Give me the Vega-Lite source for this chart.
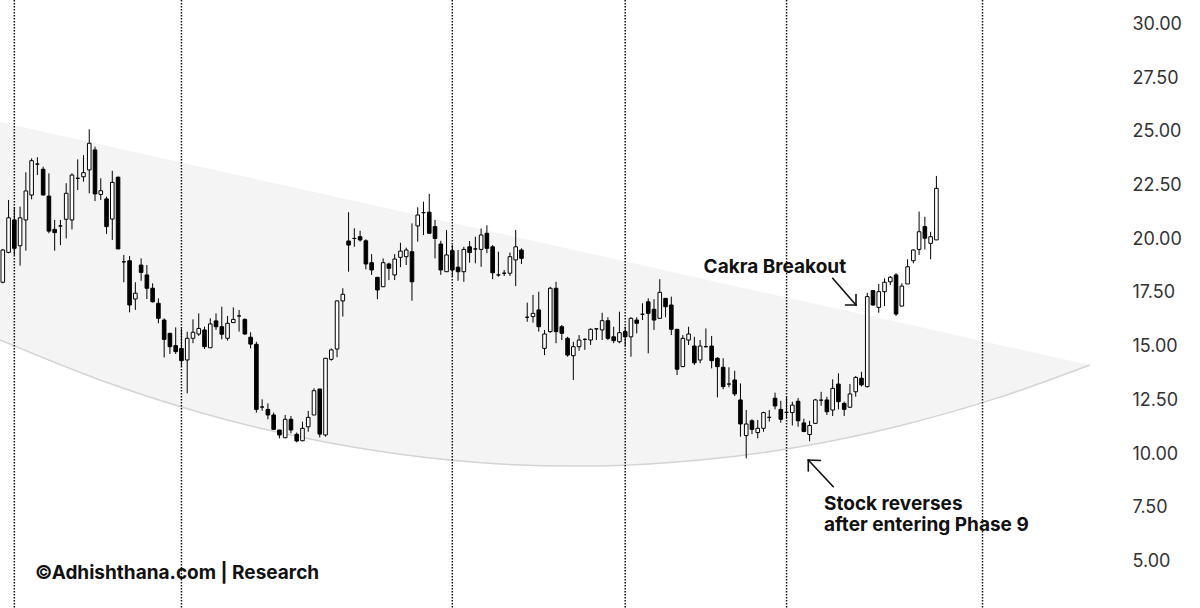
{
  "$schema": "https://vega.github.io/schema/vega-lite/v6.json",
  "width": 1120,
  "height": 608,
  "padding": {"left": 0, "top": 0, "right": 80, "bottom": 0},
  "autosize": {"type": "none"},
  "background": "#ffffff",
  "config": {"view": {"stroke": null}, "scale": {"continuousPadding": 0}},
  "datasets": {
    "candles": [
      {"i":0,"o":17.95,"h":19.5,"l":17.9,"c":19.45},
      {"i":1,"o":19.34,"h":21.78,"l":19.3,"c":20.95},
      {"i":2,"o":20.85,"h":21.44,"l":19.22,"c":19.53},
      {"i":3,"o":19.65,"h":21.47,"l":18.72,"c":20.95},
      {"i":4,"o":20.85,"h":23.07,"l":19.42,"c":22.2},
      {"i":5,"o":22.01,"h":23.72,"l":21.81,"c":23.61},
      {"i":6,"o":23.45,"h":23.77,"l":22.94,"c":23.45},
      {"i":7,"o":23.21,"h":23.33,"l":22.0,"c":22.01},
      {"i":8,"o":21.96,"h":23.02,"l":20.23,"c":20.33},
      {"i":9,"o":20.41,"h":20.85,"l":19.42,"c":20.26},
      {"i":10,"o":20.57,"h":20.85,"l":19.68,"c":20.57},
      {"i":11,"o":20.88,"h":22.56,"l":19.99,"c":22.09},
      {"i":12,"o":20.85,"h":23.02,"l":20.41,"c":22.94},
      {"i":13,"o":22.79,"h":23.67,"l":22.24,"c":22.79},
      {"i":14,"o":22.86,"h":23.87,"l":22.63,"c":23.05},
      {"i":15,"o":23.18,"h":25.07,"l":22.09,"c":24.42},
      {"i":16,"o":24.11,"h":24.26,"l":21.73,"c":22.06},
      {"i":17,"o":22.04,"h":22.79,"l":21.78,"c":22.21},
      {"i":18,"o":21.83,"h":21.94,"l":20.2,"c":20.54},
      {"i":19,"o":20.89,"h":23.14,"l":19.92,"c":22.6},
      {"i":20,"o":22.84,"h":22.87,"l":19.5,"c":19.5},
      {"i":21,"o":18.9,"h":19.22,"l":17.95,"c":18.9},
      {"i":22,"o":18.95,"h":19.17,"l":16.55,"c":16.89},
      {"i":23,"o":17.17,"h":17.95,"l":16.66,"c":17.44},
      {"i":24,"o":18.75,"h":19.06,"l":18.02,"c":18.41},
      {"i":25,"o":18.29,"h":18.75,"l":17.17,"c":17.67},
      {"i":26,"o":17.67,"h":17.9,"l":17.0,"c":17.04},
      {"i":27,"o":16.97,"h":17.2,"l":16.04,"c":16.27},
      {"i":28,"o":16.19,"h":16.27,"l":14.45,"c":15.29},
      {"i":29,"o":15.57,"h":15.6,"l":14.61,"c":14.95},
      {"i":30,"o":15.0,"h":15.85,"l":14.61,"c":14.72},
      {"i":31,"o":14.87,"h":15.8,"l":14.02,"c":14.3},
      {"i":32,"o":14.33,"h":15.65,"l":12.78,"c":15.34},
      {"i":33,"o":15.34,"h":16.22,"l":15.11,"c":15.62},
      {"i":34,"o":15.54,"h":16.5,"l":15.45,"c":15.8},
      {"i":35,"o":15.73,"h":15.88,"l":14.84,"c":14.95},
      {"i":36,"o":14.9,"h":16.27,"l":14.9,"c":16.01},
      {"i":37,"o":16.15,"h":16.5,"l":15.73,"c":15.88},
      {"i":38,"o":15.88,"h":16.81,"l":15.29,"c":15.53},
      {"i":39,"o":15.34,"h":16.38,"l":15.23,"c":16.04},
      {"i":40,"o":16.07,"h":16.78,"l":16.07,"c":16.22},
      {"i":41,"o":16.38,"h":16.66,"l":15.65,"c":16.38},
      {"i":42,"o":16.22,"h":16.27,"l":15.5,"c":15.54},
      {"i":43,"o":15.39,"h":15.62,"l":14.87,"c":15.07},
      {"i":44,"o":15.06,"h":15.18,"l":11.88,"c":12.03},
      {"i":45,"o":12.14,"h":12.5,"l":11.97,"c":12.14},
      {"i":46,"o":12.03,"h":12.31,"l":11.57,"c":11.77},
      {"i":47,"o":11.77,"h":11.88,"l":11.1,"c":11.1},
      {"i":48,"o":11.07,"h":11.07,"l":10.68,"c":10.84},
      {"i":49,"o":10.71,"h":11.77,"l":10.7,"c":11.57},
      {"i":50,"o":11.57,"h":11.72,"l":10.92,"c":11.07},
      {"i":51,"o":10.87,"h":10.95,"l":10.5,"c":10.56},
      {"i":52,"o":10.57,"h":11.46,"l":10.55,"c":11.15},
      {"i":53,"o":11.22,"h":11.96,"l":10.99,"c":11.66},
      {"i":54,"o":11.77,"h":13.01,"l":11.77,"c":12.9},
      {"i":55,"o":12.98,"h":12.98,"l":10.73,"c":10.88},
      {"i":56,"o":10.84,"h":14.41,"l":10.76,"c":14.41},
      {"i":57,"o":14.36,"h":14.87,"l":14.3,"c":14.8},
      {"i":58,"o":14.84,"h":17.1,"l":14.46,"c":17.08},
      {"i":59,"o":17.08,"h":17.67,"l":16.35,"c":17.39},
      {"i":60,"o":19.87,"h":21.21,"l":18.44,"c":19.68},
      {"i":61,"o":19.99,"h":20.46,"l":19.6,"c":19.99},
      {"i":62,"o":20.07,"h":20.35,"l":19.84,"c":19.92},
      {"i":63,"o":19.88,"h":19.95,"l":18.55,"c":18.8},
      {"i":64,"o":18.86,"h":19.26,"l":18.29,"c":18.52},
      {"i":65,"o":18.18,"h":18.18,"l":17.16,"c":17.59},
      {"i":66,"o":17.74,"h":19.06,"l":17.74,"c":18.86},
      {"i":67,"o":18.8,"h":18.86,"l":18.05,"c":18.6},
      {"i":68,"o":18.29,"h":19.26,"l":18.05,"c":19.03},
      {"i":69,"o":19.11,"h":19.79,"l":18.65,"c":19.4},
      {"i":70,"o":19.14,"h":19.56,"l":18.75,"c":19.45},
      {"i":71,"o":19.37,"h":20.69,"l":17.09,"c":17.97},
      {"i":72,"o":20.57,"h":21.44,"l":19.84,"c":21.08},
      {"i":73,"o":21.19,"h":21.7,"l":20.15,"c":21.19},
      {"i":74,"o":21.21,"h":22.06,"l":20.2,"c":20.23},
      {"i":75,"o":20.54,"h":20.85,"l":19.06,"c":19.99},
      {"i":76,"o":19.73,"h":19.88,"l":18.29,"c":18.52},
      {"i":77,"o":18.44,"h":20.38,"l":18.44,"c":19.22},
      {"i":78,"o":19.42,"h":19.68,"l":18.21,"c":18.52},
      {"i":79,"o":18.65,"h":19.45,"l":18.02,"c":18.44},
      {"i":80,"o":18.44,"h":19.6,"l":17.97,"c":19.48},
      {"i":81,"o":19.6,"h":19.87,"l":18.86,"c":19.33},
      {"i":82,"o":19.5,"h":20.07,"l":18.83,"c":19.5},
      {"i":83,"o":19.48,"h":20.45,"l":18.67,"c":20.15},
      {"i":84,"o":20.23,"h":20.6,"l":19.3,"c":19.53},
      {"i":85,"o":19.6,"h":19.68,"l":18.09,"c":18.39},
      {"i":86,"o":18.29,"h":19.37,"l":18.21,"c":18.29},
      {"i":87,"o":18.37,"h":18.52,"l":18.24,"c":18.37},
      {"i":88,"o":18.37,"h":19.33,"l":18.24,"c":19.14},
      {"i":89,"o":18.99,"h":20.38,"l":17.77,"c":19.6},
      {"i":90,"o":19.45,"h":19.53,"l":18.8,"c":19.06},
      {"i":91,"o":16.32,"h":17.0,"l":16.11,"c":16.32},
      {"i":92,"o":16.35,"h":17.36,"l":16.07,"c":16.5},
      {"i":93,"o":16.66,"h":17.51,"l":15.65,"c":15.88},
      {"i":94,"o":14.87,"h":15.73,"l":14.56,"c":15.54},
      {"i":95,"o":15.65,"h":17.74,"l":15.6,"c":17.67},
      {"i":96,"o":17.67,"h":17.97,"l":15.11,"c":15.65},
      {"i":97,"o":15.88,"h":15.96,"l":15.26,"c":15.57},
      {"i":98,"o":15.34,"h":15.41,"l":14.48,"c":14.56},
      {"i":99,"o":14.53,"h":15.18,"l":13.4,"c":14.95},
      {"i":100,"o":14.95,"h":15.49,"l":14.76,"c":15.26},
      {"i":101,"o":15.29,"h":15.34,"l":14.8,"c":15.29},
      {"i":102,"o":15.26,"h":15.8,"l":15.03,"c":15.76},
      {"i":103,"o":15.78,"h":15.8,"l":15.26,"c":15.78},
      {"i":104,"o":15.73,"h":16.53,"l":15.26,"c":16.16},
      {"i":105,"o":16.16,"h":16.32,"l":15.26,"c":15.34},
      {"i":106,"o":15.41,"h":15.88,"l":15.11,"c":15.23},
      {"i":107,"o":15.18,"h":16.58,"l":15.11,"c":15.6},
      {"i":108,"o":15.65,"h":15.88,"l":14.95,"c":15.41},
      {"i":109,"o":15.41,"h":16.32,"l":14.48,"c":16.27},
      {"i":110,"o":16.19,"h":16.32,"l":15.57,"c":16.04},
      {"i":111,"o":16.46,"h":16.97,"l":16.19,"c":16.46},
      {"i":112,"o":17.04,"h":17.2,"l":14.64,"c":16.5},
      {"i":113,"o":16.69,"h":17.16,"l":15.73,"c":16.19},
      {"i":114,"o":16.27,"h":18.09,"l":16.27,"c":17.48},
      {"i":115,"o":17.2,"h":17.2,"l":16.32,"c":16.81},
      {"i":116,"o":16.89,"h":17.28,"l":15.49,"c":15.76},
      {"i":117,"o":15.76,"h":15.76,"l":13.63,"c":13.9},
      {"i":118,"o":14.02,"h":15.49,"l":14.02,"c":15.34},
      {"i":119,"o":15.26,"h":15.88,"l":15.03,"c":15.54},
      {"i":120,"o":14.98,"h":15.41,"l":14.1,"c":14.2},
      {"i":121,"o":14.33,"h":15.26,"l":14.18,"c":14.98},
      {"i":122,"o":14.95,"h":15.8,"l":14.92,"c":14.95},
      {"i":123,"o":14.98,"h":15.45,"l":13.94,"c":14.3},
      {"i":124,"o":14.41,"h":14.46,"l":12.59,"c":14.02},
      {"i":125,"o":13.99,"h":14.41,"l":12.97,"c":13.09},
      {"i":126,"o":13.21,"h":13.99,"l":13.06,"c":13.21},
      {"i":127,"o":13.4,"h":13.83,"l":12.65,"c":12.75},
      {"i":128,"o":12.47,"h":13.24,"l":10.76,"c":11.35},
      {"i":129,"o":10.81,"h":12.0,"l":9.75,"c":11.35},
      {"i":130,"o":11.5,"h":11.57,"l":10.88,"c":11.1},
      {"i":131,"o":10.95,"h":11.54,"l":10.68,"c":11.15},
      {"i":132,"o":11.15,"h":11.92,"l":10.99,"c":11.88},
      {"i":133,"o":11.66,"h":12.0,"l":11.46,"c":11.66},
      {"i":134,"o":12.55,"h":12.81,"l":12.03,"c":12.19},
      {"i":135,"o":12.03,"h":12.43,"l":11.41,"c":11.57},
      {"i":136,"o":11.89,"h":12.6,"l":11.6,"c":11.89},
      {"i":137,"o":11.88,"h":12.39,"l":11.28,"c":12.23},
      {"i":138,"o":12.41,"h":12.56,"l":11.22,"c":11.5},
      {"i":139,"o":11.4,"h":11.6,"l":10.97,"c":11.0},
      {"i":140,"o":10.86,"h":11.5,"l":10.55,"c":11.28},
      {"i":141,"o":11.38,"h":12.52,"l":11.38,"c":12.47},
      {"i":142,"o":12.46,"h":12.85,"l":12.2,"c":12.46},
      {"i":143,"o":12.47,"h":12.62,"l":11.77,"c":11.92},
      {"i":144,"o":12.0,"h":13.43,"l":11.72,"c":13.01},
      {"i":145,"o":13.21,"h":13.71,"l":12.03,"c":12.39},
      {"i":146,"o":12.31,"h":12.39,"l":11.72,"c":12.03},
      {"i":147,"o":12.13,"h":13.21,"l":12.1,"c":12.75},
      {"i":148,"o":12.85,"h":13.58,"l":12.62,"c":13.52},
      {"i":149,"o":13.48,"h":13.78,"l":13.1,"c":13.17},
      {"i":150,"o":13.09,"h":17.46,"l":13.05,"c":17.28},
      {"i":151,"o":17.56,"h":17.59,"l":16.85,"c":16.89},
      {"i":152,"o":16.78,"h":17.87,"l":16.53,"c":17.51},
      {"i":153,"o":17.51,"h":18.13,"l":16.84,"c":17.95},
      {"i":154,"o":17.97,"h":18.24,"l":17.82,"c":18.18},
      {"i":155,"o":18.29,"h":18.37,"l":16.38,"c":16.47},
      {"i":156,"o":16.84,"h":17.9,"l":16.84,"c":17.77},
      {"i":157,"o":17.87,"h":19.02,"l":17.87,"c":18.67},
      {"i":158,"o":18.95,"h":19.48,"l":18.83,"c":19.45},
      {"i":159,"o":19.48,"h":21.24,"l":19.22,"c":20.3},
      {"i":160,"o":20.54,"h":21.0,"l":19.48,"c":20.0},
      {"i":161,"o":19.76,"h":20.3,"l":19.02,"c":20.07},
      {"i":162,"o":19.92,"h":22.9,"l":19.92,"c":22.32}
    ],
    "band": [
      {"x":-0.486,"top":25.41,"bot":15.26},
      {"x":16.87,"top":24.37,"bot":13.4},
      {"x":34.22,"top":23.33,"bot":11.89},
      {"x":51.57,"top":22.3,"bot":10.74},
      {"x":68.92,"top":21.26,"bot":9.94},
      {"x":86.28,"top":20.22,"bot":9.49},
      {"x":99.29,"top":19.44,"bot":9.39},
      {"x":103.63,"top":19.18,"bot":9.4},
      {"x":120.98,"top":18.14,"bot":9.67},
      {"x":138.33,"top":17.1,"bot":10.29},
      {"x":155.68,"top":16.07,"bot":11.27},
      {"x":173.03,"top":15.03,"bot":12.6},
      {"x":188.65,"top":14.1,"bot":14.1}
    ],
    "vlines": [{"x":2},{"x":31},{"x":78},{"x":108},{"x":136},{"x":170}],
    "arrows": [
      {"x":144.0,"y":18.133,"x2":148.05,"y2":16.89},
      {"x":148.05,"y":17.379,"x2":148.05,"y2":16.89},
      {"x":146.23,"y":16.89,"x2":148.05,"y2":16.89},
      {"x":144.11,"y":8.431,"x2":139.77,"y2":9.674},
      {"x":141.88,"y":9.651,"x2":139.77,"y2":9.674},
      {"x":139.77,"y":9.162,"x2":139.77,"y2":9.674}
    ],
    "labels": [
      {"x":121.6,"y":18.39,"t":"Cakra Breakout"},
      {"x":142.5,"y":7.33,"t":"Stock reverses\nafter entering Phase 9"},
      {"x":5.6,"y":4.134,"t":"©Adhishthana.com | Research"}
    ]
  },
  "layer": [
    {
      "data": {"name": "band"},
      "mark": {"type": "area", "interpolate": "monotone", "fill": "#f4f4f4", "clip": true},
      "encoding": {
        "x": {"field": "x", "type": "quantitative", "scale": {"domain": [-0.486, 193.86], "nice": false, "zero": false, "padding": 0}, "axis": null},
        "y": {"field": "top", "type": "quantitative", "scale": {"domain": [2.784, 31.09], "nice": false, "zero": false, "padding": 0}},
        "y2": {"field": "bot"}
      }
    },
    {
      "data": {"name": "band"},
      "mark": {"type": "line", "interpolate": "monotone", "stroke": "#d4d4d4", "strokeWidth": 1.5, "clip": true},
      "encoding": {
        "x": {"field": "x", "type": "quantitative", "axis": null},
        "y": {"field": "bot", "type": "quantitative"}
      }
    },
    {
      "data": {"name": "vlines"},
      "mark": {"type": "rule", "stroke": "#111111", "strokeWidth": 1.5, "strokeDash": [1.5, 1.5]},
      "encoding": {
        "x": {"field": "x", "type": "quantitative", "axis": null}
      }
    },
    {
      "data": {"name": "candles"},
      "mark": {"type": "rule", "stroke": "#000000", "strokeWidth": 1},
      "encoding": {
        "x": {"field": "i", "type": "quantitative", "axis": null},
        "y": {"field": "l", "type": "quantitative"},
        "y2": {"field": "h"}
      }
    },
    {
      "data": {"name": "candles"},
      "mark": {"type": "bar", "width": 3.6, "stroke": "#000000", "strokeWidth": 1},
      "encoding": {
        "x": {"field": "i", "type": "quantitative", "axis": null},
        "y": {"field": "o", "type": "quantitative",
          "axis": {"orient": "right", "values": [2.5, 5, 7.5, 10, 12.5, 15, 17.5, 20, 22.5, 25, 27.5, 30], "format": ".2f", "labelFont": "Inter", "labelFontSize": 18, "labelColor": "#333333", "domain": false, "ticks": false, "grid": false, "title": null, "labelPadding": 12, "labelFlush": false, "labelOverlap": false, "labelAlign": "left", "labelOffset": 1}},
        "y2": {"field": "c"},
        "fill": {"condition": {"test": "datum.c < datum.o", "value": "#000000"}, "value": "#ffffff"}
      }
    },
    {
      "data": {"name": "arrows"},
      "mark": {"type": "rule", "stroke": "#111111", "strokeWidth": 1.6, "strokeCap": "round"},
      "encoding": {
        "x": {"field": "x", "type": "quantitative", "axis": null},
        "y": {"field": "y", "type": "quantitative"},
        "x2": {"field": "x2"},
        "y2": {"field": "y2"}
      }
    },
    {
      "data": {"name": "labels"},
      "mark": {"type": "text", "align": "left", "baseline": "alphabetic", "font": "Inter", "fontSize": 19, "fontWeight": "bold", "fill": "#111111", "lineBreak": "\n", "lineHeight": 21},
      "encoding": {
        "x": {"field": "x", "type": "quantitative", "axis": null},
        "y": {"field": "y", "type": "quantitative"},
        "text": {"field": "t"}
      }
    }
  ]
}
